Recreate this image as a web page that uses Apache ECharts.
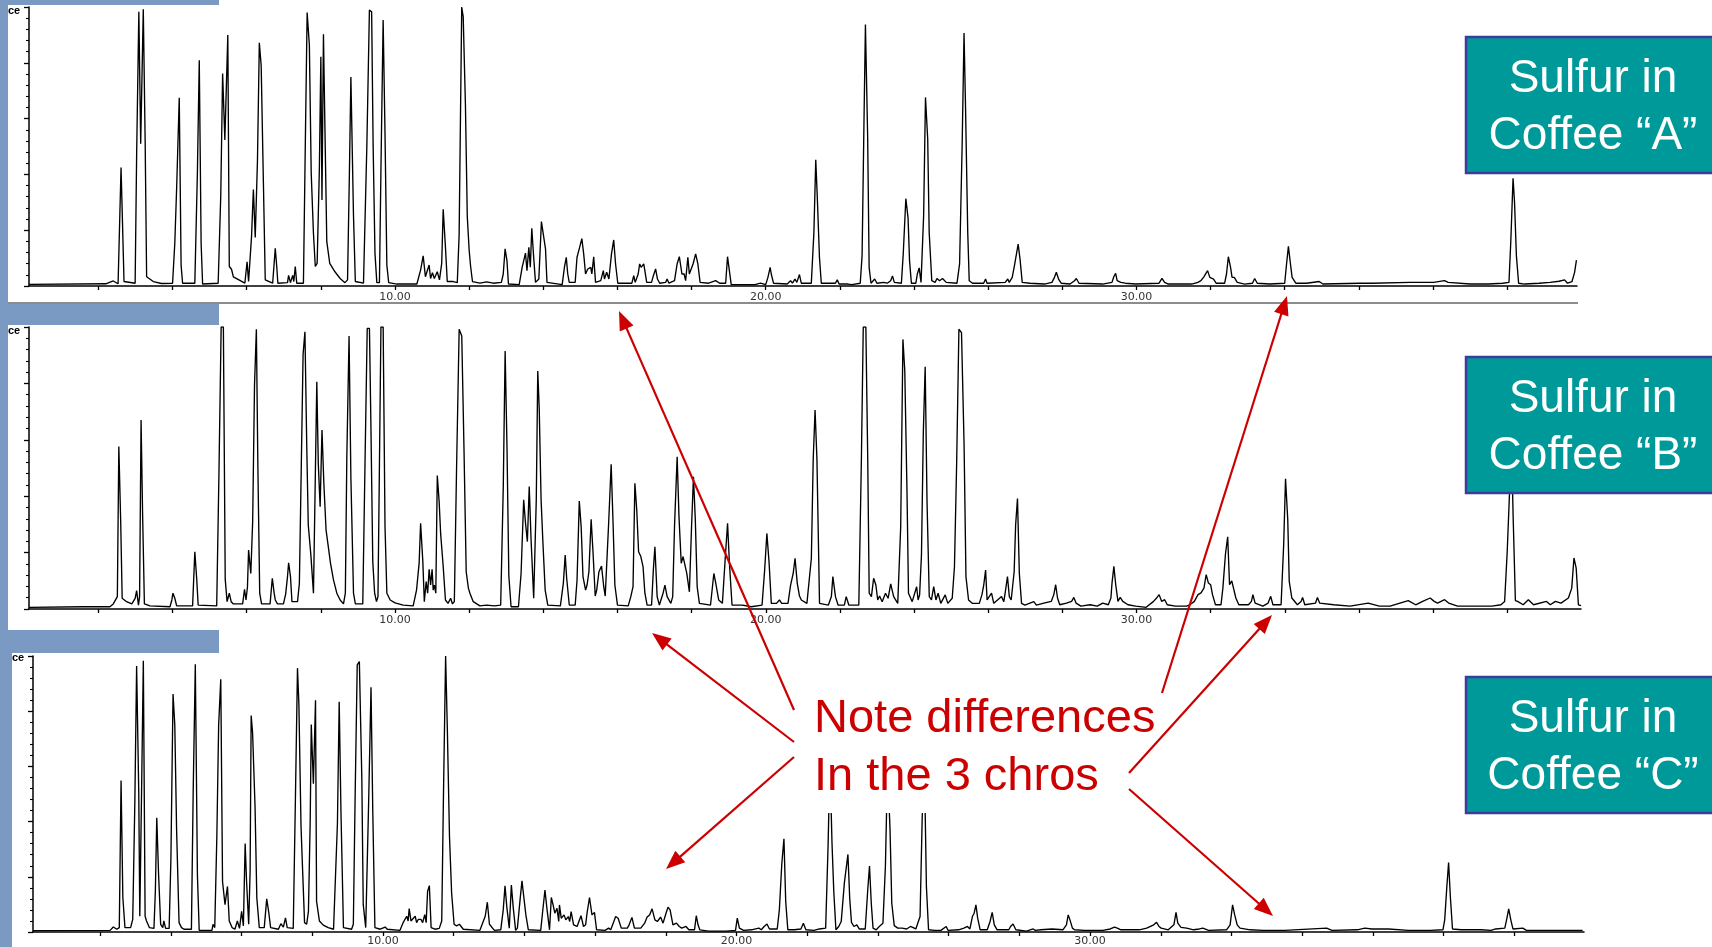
<!DOCTYPE html>
<html><head><meta charset="utf-8">
<script src="https://cdn.jsdelivr.net/npm/echarts@6/dist/echarts.min.js"></script>
<style>html,body{margin:0;padding:0;background:#fff}#c{width:1712px;height:947px}</style>
</head><body><div id="c"></div>
<script>
// retention time (min) , relative abundance (% of panel height)
const traceA = [[0.13,0.6],[2.2,0.8],[2.40,1.8],[2.53,0.8],[2.61,42.5],[2.65,22.2],[2.69,1.6],[2.99,1],[3.03,46.4],[3.09,98.3],[3.14,51],[3.21,99.2],[3.26,52.3],[3.30,3.3],[3.48,1.6],[3.7,0.9],[4.0,1],[4.06,15.3],[4.11,35.2],[4.18,67.5],[4.23,7.5],[4.27,1],[4.60,1],[4.67,41],[4.72,80.9],[4.77,15.3],[4.81,0.7],[5.23,1],[5.30,32.5],[5.35,76.2],[5.41,52.3],[5.49,90],[5.53,7],[5.59,6],[5.64,3.3],[5.95,1],[6.01,8.7],[6.05,1.6],[6.13,17.7],[6.18,34.6],[6.23,17.4],[6.29,45],[6.34,87.2],[6.39,79],[6.45,37],[6.50,2.2],[6.70,1],[6.77,13.5],[6.81,7],[6.84,1],[7.10,1.2],[7.13,3.8],[7.18,1.2],[7.24,3.8],[7.27,1.6],[7.31,7],[7.35,1],[7.53,1],[7.58,50.4],[7.63,98],[7.69,86.4],[7.74,40.4],[7.80,18.9],[7.85,7],[7.90,8.1],[7.96,42.2],[8.00,82.2],[8.03,30.8],[8.07,90.2],[8.11,56.5],[8.16,15.9],[8.24,8.1],[8.38,5.1],[8.52,2.7],[8.65,1.2],[8.72,2.2],[8.77,40.4],[8.81,74.9],[8.88,25.4],[8.93,1.6],[9.15,1],[9.24,49.9],[9.31,98.9],[9.37,98.3],[9.41,50.4],[9.46,11.7],[9.51,1.2],[9.58,1.2],[9.62,41],[9.68,95.3],[9.73,55.1],[9.78,7.5],[9.83,1.2],[10.05,0.7],[10.59,0.7],[10.69,5.7],[10.76,10.8],[10.82,3.3],[10.87,4],[10.92,7.5],[10.96,2.7],[11.01,4.8],[11.06,2.7],[11.14,5.1],[11.20,2.2],[11.26,8.1],[11.30,27.5],[11.36,14.1],[11.41,1.6],[11.57,1.6],[11.68,1.2],[11.73,18.3],[11.80,100],[11.84,96.5],[11.90,64.9],[11.95,24.9],[12.00,12.9],[12.04,7],[12.09,1.6],[12.29,1],[12.47,1.5],[12.65,1],[12.87,1.3],[12.92,4.3],[12.97,13.3],[13.02,9.1],[13.06,0.7],[13.35,0.5],[13.43,6.7],[13.52,11.8],[13.56,5.5],[13.61,13.9],[13.65,6.7],[13.69,20.7],[13.74,10.5],[13.79,1.3],[13.88,2.5],[13.95,23.1],[14.00,18.6],[14.06,13.3],[14.10,1.3],[14.51,0.5],[14.57,6.7],[14.62,10.3],[14.66,4.3],[14.70,1.3],[14.86,1.3],[14.91,10.3],[14.97,13.3],[15.04,17],[15.09,11.5],[15.14,4.3],[15.20,6.1],[15.28,6.7],[15.31,4.3],[15.36,10.5],[15.41,1.3],[15.55,1.9],[15.62,5.5],[15.65,2.5],[15.71,4.9],[15.77,2.5],[15.84,11.5],[15.90,16.5],[15.95,7.9],[16.01,1],[16.39,1],[16.44,3.7],[16.48,1.3],[16.56,4.3],[16.60,7.9],[16.64,6.7],[16.71,7.9],[16.74,5.5],[16.79,1.3],[16.92,1.3],[16.97,3.7],[17.03,6.1],[17.08,2.5],[17.14,1],[17.30,1.3],[17.34,2.5],[17.39,1],[17.54,1.9],[17.61,7.9],[17.67,10.5],[17.74,4.3],[17.80,4.3],[17.84,1.9],[17.90,10.3],[17.94,4.3],[17.98,4.3],[18.04,7.9],[18.11,11.5],[18.17,7.9],[18.23,1.3],[18.46,1],[18.65,1.9],[18.69,2.5],[18.76,1],[18.92,1],[18.97,10.5],[19.02,5.5],[19.07,0.5],[19.71,0.5],[19.86,1],[20.00,0.5],[20.06,3.1],[20.12,6.7],[20.15,4.3],[20.21,1],[20.58,0.7],[20.67,1.9],[20.72,1],[20.79,2.5],[20.84,1.3],[20.91,4.1],[20.96,1],[21.23,1],[21.30,19.2],[21.35,45.2],[21.39,32.4],[21.45,10.3],[21.50,1],[21.88,1],[21.93,2.2],[21.98,0.7],[22.22,0.7],[22.27,1.3],[22.32,0.5],[22.55,1],[22.60,10.9],[22.65,58],[22.69,93.7],[22.75,53.5],[22.79,6.7],[22.84,1],[22.94,2.5],[23.00,1],[23.18,1.3],[23.23,1.9],[23.28,1],[23.37,1.9],[23.42,3.6],[23.47,1.3],[23.66,1],[23.71,11.5],[23.78,31.3],[23.84,24.4],[23.88,9.1],[23.93,1],[24.05,1],[24.09,4.3],[24.14,6.5],[24.19,1.3],[24.26,25.2],[24.31,67.6],[24.37,52.7],[24.41,19.2],[24.48,1.9],[24.57,1.3],[24.62,2.7],[24.69,1.9],[24.77,2.7],[24.87,1.3],[25.16,1],[25.23,7.9],[25.30,51.1],[25.35,90.7],[25.39,64.3],[25.45,19.2],[25.49,1.9],[25.58,1],[25.88,1],[25.93,2.5],[25.97,1],[26.46,1.3],[26.53,2.5],[26.57,1.3],[26.65,3.1],[26.71,7.3],[26.76,7],[26.81,15],[26.86,9.7],[26.92,1.3],[27.13,1],[27.52,0.7],[27.72,1.3],[27.79,3.1],[27.84,4.9],[27.90,2.5],[27.97,1],[28.21,0.7],[28.33,1.9],[28.38,2.7],[28.45,1],[29.09,0.7],[29.34,1.3],[29.39,3.3],[29.44,4.5],[29.48,1.9],[29.58,1.3],[29.70,1],[29.98,0.7],[30.61,1],[30.69,2.7],[30.76,1.3],[30.86,0.7],[31.49,0.7],[31.66,1.3],[31.74,1.9],[31.82,3.3],[31.92,5.5],[31.98,3.1],[32.08,2.5],[32.15,1],[32.38,1],[32.43,4.3],[32.48,10.5],[32.54,6.7],[32.58,3.1],[32.64,3.1],[32.72,1.3],[32.92,0.7],[33.13,1],[33.19,2.7],[33.26,1],[33.60,0.7],[34.00,1],[34.05,7.9],[34.10,14.2],[34.15,8.5],[34.20,3.1],[34.25,3.3],[34.30,1],[34.59,1],[34.93,1.6],[35.03,0.7],[36.01,1],[36.35,1],[37.38,1.3],[38.02,1.3],[38.31,1.9],[38.41,1.3],[39.00,0.7],[39.49,0.7],[39.88,1],[40.05,1.3],[40.10,16.2],[40.16,38.6],[40.20,30],[40.25,10.9],[40.31,1],[40.47,0.7],[40.86,1],[41.16,1.3],[41.40,1.7],[41.55,2.2],[41.63,1],[41.75,1.6],[41.82,4.9],[41.87,9.3]];

const traceB = [[0.13,0.6],[1.58,0.8],[2.31,0.8],[2.40,1.8],[2.51,4.4],[2.55,57.6],[2.60,31.3],[2.64,3.8],[2.76,2.6],[2.90,1.8],[2.99,3.8],[3.03,6.5],[3.08,1.4],[3.11,4.4],[3.15,67],[3.19,34.4],[3.24,1.8],[3.39,1.1],[3.93,0.8],[3.98,3.2],[4.01,5.6],[4.06,3.8],[4.11,1.1],[4.54,1.1],[4.60,20.3],[4.65,10.8],[4.69,1.4],[5.19,1.1],[5.25,47.5],[5.31,100],[5.37,100],[5.42,10.5],[5.47,2.6],[5.53,5.6],[5.58,2.6],[5.64,1.8],[5.89,1.8],[5.94,7],[5.98,3.2],[6.02,7.9],[6.05,20.9],[6.11,12.6],[6.16,31],[6.21,79.4],[6.26,99.2],[6.30,51.1],[6.35,5.6],[6.40,1.8],[6.63,1.8],[6.69,10.9],[6.74,5.6],[6.77,3.2],[6.83,1.8],[6.99,1.8],[7.05,5.3],[7.10,11.5],[7.13,16.4],[7.18,11.5],[7.22,2.6],[7.37,2.6],[7.42,9.1],[7.47,49.5],[7.52,90.3],[7.57,98.3],[7.62,57],[7.66,29.8],[7.73,19.1],[7.80,5.6],[7.84,38.7],[7.89,80.6],[7.93,51.7],[7.98,36.3],[8.03,63.5],[8.08,44.6],[8.14,28],[8.20,22.1],[8.26,16.2],[8.34,10.3],[8.43,5.6],[8.52,3.2],[8.61,1.8],[8.66,5.6],[8.70,54],[8.76,96.8],[8.81,46.3],[8.88,5.6],[8.93,1.8],[9.13,1.8],[9.19,51.3],[9.25,99.5],[9.31,99.5],[9.35,64.7],[9.40,16.8],[9.45,5.6],[9.50,2.6],[9.54,4.4],[9.58,51.7],[9.62,100],[9.68,100],[9.73,29.2],[9.78,5.6],[9.87,3.2],[10.00,2.2],[10.22,1.4],[10.49,1.1],[10.58,6.7],[10.65,16.2],[10.69,30.4],[10.75,16.8],[10.79,2.6],[10.84,9.7],[10.88,5.6],[10.92,14.1],[10.96,8.5],[11.00,14.1],[11.03,6.7],[11.06,8.5],[11.10,5.6],[11.14,47.3],[11.19,38.1],[11.23,26.8],[11.30,15],[11.36,3.2],[11.43,2],[11.50,3.8],[11.55,1.8],[11.60,2.6],[11.66,49.9],[11.73,99.2],[11.80,96.8],[11.86,57],[11.92,13.2],[11.98,7.3],[12.02,5.6],[12.11,2.6],[12.29,1.1],[12.47,1.4],[12.68,1.1],[12.85,1.4],[12.92,43.4],[12.97,91.5],[13.02,57.6],[13.07,11.7],[13.13,0.8],[13.33,0.8],[13.40,12.6],[13.47,38.7],[13.52,30.4],[13.57,23.9],[13.62,43.4],[13.67,24.5],[13.74,3.8],[13.81,38.7],[13.85,84.4],[13.89,70.9],[13.94,38.7],[13.99,23.3],[14.05,6.7],[14.12,1.4],[14.46,1.1],[14.54,9.1],[14.59,19.1],[14.63,10.9],[14.70,1.4],[14.86,1.4],[14.91,10.3],[14.97,38.3],[15.02,29.4],[15.07,11.5],[15.14,6.7],[15.18,8.5],[15.23,13.2],[15.29,31.8],[15.34,20.3],[15.40,4.6],[15.44,6.7],[15.50,13.2],[15.57,15.2],[15.63,7.9],[15.67,4.6],[15.76,29.8],[15.83,51.3],[15.88,31],[15.93,8.5],[16.00,1.4],[16.29,1.1],[16.36,4.4],[16.42,7.9],[16.47,44.6],[16.52,35.1],[16.57,20.3],[16.63,18.6],[16.69,15],[16.74,5.6],[16.80,1.4],[16.92,1.4],[16.97,14.4],[17.01,22.1],[17.07,4.4],[17.13,1.4],[17.23,5.6],[17.28,8.5],[17.34,4.4],[17.44,2],[17.49,4.4],[17.54,29.8],[17.61,54],[17.66,32.5],[17.72,16.2],[17.77,18.6],[17.82,18],[17.87,12.6],[17.94,6.1],[18.00,29.8],[18.05,46.9],[18.10,31.6],[18.15,7.9],[18.21,2],[18.51,1.4],[18.60,12.6],[18.65,9.3],[18.73,3.2],[18.83,2],[18.91,18.6],[18.97,30.4],[19.02,16.2],[19.09,1.4],[19.37,1.4],[19.61,0.8],[19.90,1.4],[19.97,13.8],[20.03,26.8],[20.09,16.4],[20.15,2],[20.29,2],[20.37,3.2],[20.43,2],[20.60,2],[20.67,8.5],[20.74,12.6],[20.79,18],[20.85,9.1],[20.91,4.6],[20.96,3.2],[21.11,2],[21.23,18],[21.28,53.1],[21.33,70.6],[21.38,53.4],[21.45,2],[21.69,1.4],[21.77,4.4],[21.81,11.5],[21.88,4.4],[21.95,1.4],[22.12,1.4],[22.17,4.4],[22.24,1.4],[22.51,1.4],[22.58,53.4],[22.63,100],[22.70,100],[22.75,54],[22.79,5.6],[22.85,4.4],[22.91,10.9],[22.97,8.5],[23.02,3.2],[23.07,4.6],[23.14,2.6],[23.23,5.6],[23.30,3.8],[23.37,8.9],[23.45,4.4],[23.56,2],[23.64,29.2],[23.70,95.6],[23.75,84.4],[23.81,41.3],[23.85,5.6],[23.95,2.6],[24.07,7.9],[24.11,3.2],[24.15,5],[24.20,19.1],[24.25,62.6],[24.30,85.9],[24.35,38.1],[24.41,4.4],[24.47,3.2],[24.53,7.9],[24.59,3.2],[24.65,5.6],[24.72,2],[24.84,5],[24.91,2],[25.03,3.8],[25.09,15],[25.15,52.2],[25.21,99.2],[25.28,98],[25.35,57.8],[25.40,11.5],[25.47,3.2],[25.57,2],[25.76,2],[25.83,5],[25.88,8.5],[25.93,13.8],[25.97,3.2],[26.09,5.6],[26.15,2],[26.36,4.4],[26.42,2.6],[26.45,5],[26.52,11.5],[26.57,4.4],[26.62,3.2],[26.70,13.2],[26.74,29.8],[26.79,39.2],[26.84,12.6],[26.90,2],[26.99,1.4],[27.23,2.6],[27.30,1.4],[27.50,2.1],[27.70,2.7],[27.77,5.1],[27.82,8.6],[27.87,3.9],[27.93,1.5],[28.11,2.1],[28.25,2.7],[28.31,4.1],[28.37,2.1],[28.50,1],[28.75,1.5],[28.94,1],[29.09,2.1],[29.24,1.5],[29.31,3.9],[29.34,9.2],[29.39,15.1],[29.44,8.6],[29.50,2.7],[29.56,4.1],[29.63,2.7],[29.77,1.5],[29.98,1],[30.26,0.6],[30.46,2.7],[30.53,3.7],[30.61,5.1],[30.68,2.7],[30.76,3.3],[30.83,1.5],[31.05,1],[31.35,1],[31.44,1.5],[31.56,2.7],[31.66,5.1],[31.74,5.7],[31.82,7.4],[31.88,12.2],[31.94,9.2],[32.00,8.6],[32.05,5.1],[32.13,1.5],[32.28,1.5],[32.33,7.4],[32.40,19.5],[32.46,25.6],[32.51,8.6],[32.57,10],[32.62,10],[32.68,3.9],[32.76,1.5],[33.02,1.5],[33.10,2.7],[33.14,5.1],[33.20,2.1],[33.41,1],[33.55,2.1],[33.62,4.5],[33.68,1.5],[33.90,1.5],[33.97,22.8],[34.02,46.2],[34.08,31.7],[34.12,9.8],[34.19,3.9],[34.34,1.5],[34.44,2.7],[34.48,4.1],[34.54,1.5],[34.83,2.1],[34.88,4.1],[34.94,2.1],[35.32,1.5],[35.76,1],[36.25,2.1],[36.55,1],[36.84,1],[37.33,3],[37.53,1.5],[37.72,2.7],[37.92,3.9],[38.03,2.7],[38.12,2.1],[38.31,3.3],[38.42,2.1],[38.66,1],[39.20,1],[39.59,1],[39.83,1.5],[39.93,2.7],[40.00,20.4],[40.06,40.5],[40.11,62],[40.16,32.5],[40.22,3],[40.28,2.7],[40.43,1.5],[40.57,3.3],[40.71,1.5],[41.06,2.7],[41.16,1.5],[41.30,2.7],[41.45,2.1],[41.65,3.9],[41.74,7.4],[41.80,18.1],[41.86,14.5],[41.92,1.5],[41.99,1.2]];

const traceC = [[0.10,0.5],[2.28,0.6],[2.37,1.8],[2.47,1],[2.54,1.6],[2.59,54.9],[2.64,12.6],[2.70,1.6],[2.86,1.6],[2.92,4.6],[2.98,47.1],[3.03,96.4],[3.09,50.9],[3.12,5.7],[3.17,50.7],[3.22,98.3],[3.27,5.7],[3.31,4],[3.39,1.6],[3.52,1.3],[3.56,14.7],[3.60,41.4],[3.65,21.2],[3.71,2.8],[3.77,1.6],[3.80,4],[3.85,1.3],[3.95,1.3],[4.00,26.7],[4.06,86.2],[4.11,74.9],[4.16,37.5],[4.23,3.4],[4.30,1.6],[4.37,1],[4.58,1],[4.63,50.9],[4.69,97],[4.75,20.5],[4.80,0.6],[5.16,0.6],[5.19,2.8],[5.24,1.6],[5.30,35.1],[5.35,74.9],[5.41,91.6],[5.46,18.3],[5.53,9.9],[5.60,16.5],[5.65,4],[5.73,1.6],[5.81,1],[5.88,4],[5.94,1.3],[6.00,7.5],[6.05,2.2],[6.10,32.1],[6.14,18.3],[6.20,2.8],[6.24,21.9],[6.27,78.4],[6.31,72.2],[6.38,45.3],[6.43,12.3],[6.50,1.6],[6.64,1.6],[6.71,12],[6.77,6.9],[6.82,1.6],[7.04,1],[7.11,3],[7.18,1.8],[7.24,5.1],[7.29,1.6],[7.46,1.3],[7.52,47.1],[7.58,95.6],[7.62,82.4],[7.68,38.3],[7.73,20.7],[7.78,3.4],[7.84,2.8],[7.89,7.5],[7.94,40.5],[7.97,75.2],[8.03,53.7],[8.09,84],[8.12,11.1],[8.20,4],[8.31,2.5],[8.45,1.6],[8.60,1],[8.65,1.6],[8.71,39.3],[8.76,83.4],[8.81,43.5],[8.88,1.6],[9.11,1],[9.16,2.8],[9.21,48.5],[9.27,96.8],[9.33,98],[9.40,55.7],[9.44,9.9],[9.51,1.6],[9.56,1.6],[9.59,45.3],[9.66,88.7],[9.71,43.5],[9.77,1.6],[9.92,1],[10.06,1.8],[10.12,1],[10.48,0.6],[10.57,3.4],[10.62,4.6],[10.67,5.7],[10.71,4],[10.74,8.5],[10.79,4],[10.84,4.6],[10.91,5.7],[10.95,3.4],[11.00,4.6],[11.07,4.6],[11.12,3.4],[11.18,6.3],[11.22,3.4],[11.26,14.7],[11.31,16.8],[11.36,1.6],[11.47,1],[11.59,1.3],[11.66,4],[11.71,50.3],[11.77,100],[11.82,72.8],[11.88,34.5],[11.94,14.1],[12.01,2.8],[12.08,2.2],[12.16,2.8],[12.27,1],[12.74,0.6],[12.89,5.7],[12.95,10.8],[13.01,2.8],[13.15,0.6],[13.33,0.8],[13.40,8],[13.45,16.7],[13.50,9.2],[13.57,1.4],[13.63,17],[13.68,9.2],[13.75,0.6],[13.80,1.4],[13.88,12.2],[13.93,18.5],[13.97,14],[14.04,6.2],[14.11,0.8],[14.46,0.6],[14.51,6.8],[14.58,15.2],[14.64,8],[14.71,0.8],[14.76,12.5],[14.81,9.8],[14.86,6.8],[14.92,8.6],[14.97,3.8],[14.99,9.8],[15.04,5],[15.12,6.2],[15.17,4.4],[15.24,5.6],[15.28,3.8],[15.32,7.4],[15.39,2.6],[15.49,2],[15.54,3.8],[15.60,5.9],[15.67,2],[15.73,2.6],[15.77,6.8],[15.84,12.5],[15.91,6.2],[15.98,7.1],[16.04,0.8],[16.28,0.6],[16.38,1.4],[16.44,0.8],[16.51,3.2],[16.58,5.6],[16.65,5],[16.74,1.4],[16.91,1.4],[16.96,2.6],[17.04,5.3],[17.11,1.4],[17.29,1.4],[17.40,3.2],[17.47,5.4],[17.54,6.2],[17.61,8.4],[17.69,4.4],[17.76,3.8],[17.85,5.4],[17.92,3.2],[18.00,6.6],[18.06,9],[18.12,8],[18.20,2.6],[18.30,3.2],[18.38,2],[18.45,1.4],[18.57,2],[18.65,0.8],[18.81,0.8],[18.86,5.9],[18.91,2.6],[18.96,0.8],[19.21,0.3],[19.71,0.3],[19.97,0.6],[20.02,5],[20.08,1.4],[20.20,0.6],[20.42,0.8],[20.63,1.4],[20.70,0.8],[20.78,2],[20.86,2.9],[20.93,1.1],[21.15,1.1],[21.21,8],[21.28,24.8],[21.34,33.8],[21.39,11],[21.45,0.8],[21.63,0.8],[21.82,1.1],[21.89,3.2],[21.96,0.8],[22.19,0.6],[22.34,1.1],[22.52,1.4],[22.59,32],[22.64,62],[22.70,32],[22.75,14.6],[22.81,0.8],[22.89,2],[22.96,3.8],[23.05,17.9],[23.10,18.2],[23.15,28.1],[23.20,12.2],[23.25,3.5],[23.32,2],[23.40,2.6],[23.47,1.1],[23.64,1.1],[23.71,15.2],[23.76,23.9],[23.81,10.4],[23.86,1.4],[23.95,0.8],[24.06,2.3],[24.14,3.2],[24.21,23.9],[24.27,60],[24.34,37.4],[24.39,10.4],[24.46,2.3],[24.56,1.4],[24.68,1.4],[24.81,1.1],[24.92,2],[25.07,1.1],[25.19,5.6],[25.25,41],[25.31,63],[25.37,16.4],[25.43,0.8],[25.60,0.6],[25.78,0.6],[25.93,2],[25.98,0.6],[26.28,0.8],[26.43,1.4],[26.53,2],[26.60,1.1],[26.67,5.6],[26.72,6.8],[26.77,9.8],[26.82,5],[26.89,0.8],[27.09,0.8],[27.17,3.8],[27.23,7.1],[27.29,2.6],[27.37,0.8],[27.70,0.8],[27.75,2],[27.82,2.9],[27.90,0.8],[28.20,0.3],[28.39,1.1],[28.45,0.6],[28.61,0.8],[28.92,1.1],[29.23,0.8],[29.33,2.6],[29.38,6.2],[29.43,4.4],[29.50,1.4],[29.56,0.8],[29.84,0.6],[30.36,0.6],[30.57,1.1],[30.69,1.8],[30.77,1.4],[30.87,0.8],[31.39,0.8],[31.60,1.4],[31.80,2.6],[31.88,3.5],[31.95,2],[32.01,1.4],[32.21,0.8],[32.37,2.6],[32.43,7.1],[32.48,3.2],[32.57,1.7],[32.73,1.4],[32.93,0.8],[33.09,1.1],[33.19,1.4],[33.35,0.6],[33.86,0.8],[33.96,2.6],[34.03,9.8],[34.09,6.2],[34.16,2.6],[34.24,1.4],[34.53,0.8],[34.89,0.6],[35.50,0.6],[36.69,1.4],[36.84,0.6],[37.56,0.8],[37.77,1.4],[37.97,1.1],[38.44,1.1],[39.00,0.6],[39.62,0.6],[39.98,0.8],[40.03,4.4],[40.09,16.4],[40.14,25.2],[40.19,12.8],[40.25,1.1],[40.49,0.8],[41.06,0.8],[41.34,0.6],[41.47,1.1],[41.73,1.4],[41.78,4.4],[41.84,8.4],[41.90,4.4],[41.96,1.1],[42.24,1.4],[42.34,0.6],[42.91,0.6],[43.42,0.6],[43.73,0.6],[43.93,0.6]];

const tickMinutes = [2,4,6,8,10,12,14,16,18,20,22,24,26,28,30,32,34,36,38,40,42];
const labelMinutes = [10,20,30];
const boxTitles = ['Sulfur in', 'Coffee \u201CA\u201D', 'Coffee \u201CB\u201D', 'Coffee \u201CC\u201D'];
const noteLines = ['Note differences', 'In the 3 chros'];
const yAxisTitle = 'ce';

const BLUE = '#7b9ac3', TEAL = '#009999', RED = '#cc0000';
const panels = [
  {data: traceA, left: 29, top: 7, width: 1548, height: 279, min: 0.127, max: 41.885, lblMargin: 6},
  {data: traceB, left: 29, top: 327, width: 1552, height: 282, min: 0.127, max: 41.99, lblMargin: 6},
  {data: traceC, left: 33, top: 656, width: 1551, height: 278, min: 0.099, max: 43.97, lblMargin: 4}
];

const chart = echarts.init(document.getElementById('c'), null, {renderer: 'canvas'});

const grid = panels.map(p => ({left: p.left, top: p.top, width: p.width, height: p.height, containLabel: false}));
const xAxis = panels.map((p, i) => ({
  type: 'value', gridIndex: i, min: p.min, max: p.max,
  axisLine: {show: true, lineStyle: {color: '#000', width: 1.5}},
  axisTick: {show: true, inside: false, length: 4, lineStyle: {color: '#000', width: 1.3},
             customValues: tickMinutes.filter(v => v <= p.max)},
  axisLabel: {show: true, customValues: labelMinutes, margin: p.lblMargin, fontSize: 11,
              color: '#333', fontFamily: 'DejaVu Sans', formatter: v => Number(v).toFixed(2)},
  splitLine: {show: false}
}));
const yAxis = panels.map((p, i) => ({
  type: 'value', gridIndex: i, min: 0, max: 100, interval: 20,
  axisLine: {show: true, lineStyle: {color: '#000', width: 1.5}},
  axisTick: {show: true, inside: false, length: 5, lineStyle: {color: '#000', width: 1.3}},
  minorTick: {show: true, splitNumber: 5, length: 3, lineStyle: {color: '#000', width: 1.1}},
  axisLabel: {show: false}, splitLine: {show: false}
}));
const series = panels.map((p, i) => ({
  type: 'line', xAxisIndex: i, yAxisIndex: i, data: p.data,
  showSymbol: false, symbol: 'none', sampling: null, smooth: false,
  lineStyle: {color: '#000', width: 1.35}, z: 2, silent: true
}));

function arrow(x1, y1, x2, y2) {
  const dx = x2 - x1, dy = y2 - y1, len = Math.hypot(dx, dy);
  const ux = dx / len, uy = dy / len, L = 19, W = 7.5;
  const bx = x2 - ux * L, by = y2 - uy * L;
  return [
    {type: 'line', z: 60, shape: {x1, y1, x2: bx + ux * 2, y2: by + uy * 2}, style: {stroke: RED, lineWidth: 2.2}},
    {type: 'polygon', z: 60, shape: {points: [[x2, y2], [bx - uy * W, by + ux * W], [bx + uy * W, by - ux * W]]}, style: {fill: RED}}
  ];
}

const graphic = [];
// slide background fragments
[[0,0,219,5],[0,0,8,303],[0,303,219,22],[0,325,8,305],[0,630,219,23],[0,653,12,294]].forEach(r => {
  graphic.push({type: 'rect', z: -5, shape: {x: r[0], y: r[1], width: r[2], height: r[3]}, style: {fill: BLUE}});
});
graphic.push({type: 'line', z: 5, shape: {x1: 8, y1: 303, x2: 1578, y2: 303}, style: {stroke: '#8c8c8c', lineWidth: 2}});
// little axis title fragments
[[8, 11], [8, 331], [12, 658]].forEach(pt => {
  graphic.push({type: 'text', z: 5, style: {text: yAxisTitle, x: pt[0], y: pt[1], fill: '#000',
    font: 'bold 11px "Liberation Sans"', verticalAlign: 'middle'}});
});
// teal title boxes
[37, 357, 677].forEach((top, i) => {
  graphic.push({type: 'rect', z: 80, shape: {x: 1466, y: top, width: 260, height: 136},
    style: {fill: TEAL, stroke: '#3c3c9e', lineWidth: 2.5}});
  graphic.push({type: 'text', z: 81, style: {text: boxTitles[0], x: 1593, y: top + 42, fill: '#fff',
    font: '46px "Liberation Sans"', align: 'center', verticalAlign: 'middle'}});
  graphic.push({type: 'text', z: 81, style: {text: boxTitles[i + 1], x: 1593, y: top + 99, fill: '#fff',
    font: '46px "Liberation Sans"', align: 'center', verticalAlign: 'middle'}});
});
// note text box (opaque) and arrows
graphic.push({type: 'rect', z: 50, shape: {x: 805, y: 690, width: 355, height: 123}, style: {fill: '#fff'}});
graphic.push(...arrow(794, 710, 619, 311));
graphic.push(...arrow(1162, 693, 1287, 296));
graphic.push(...arrow(794, 742, 652, 633));
graphic.push(...arrow(1129, 773, 1272, 615));
graphic.push(...arrow(794, 757, 666, 869));
graphic.push(...arrow(1129, 789, 1273, 916));
noteLines.forEach((t, i) => {
  graphic.push({type: 'text', z: 70, style: {text: t, x: 814, y: 719 + i * 58, fill: RED,
    font: '47px "Liberation Sans"', align: 'left', verticalAlign: 'middle'}});
});

chart.setOption({
  animation: false, backgroundColor: '#fff',
  grid, xAxis, yAxis, series, graphic
});
</script></body></html>
